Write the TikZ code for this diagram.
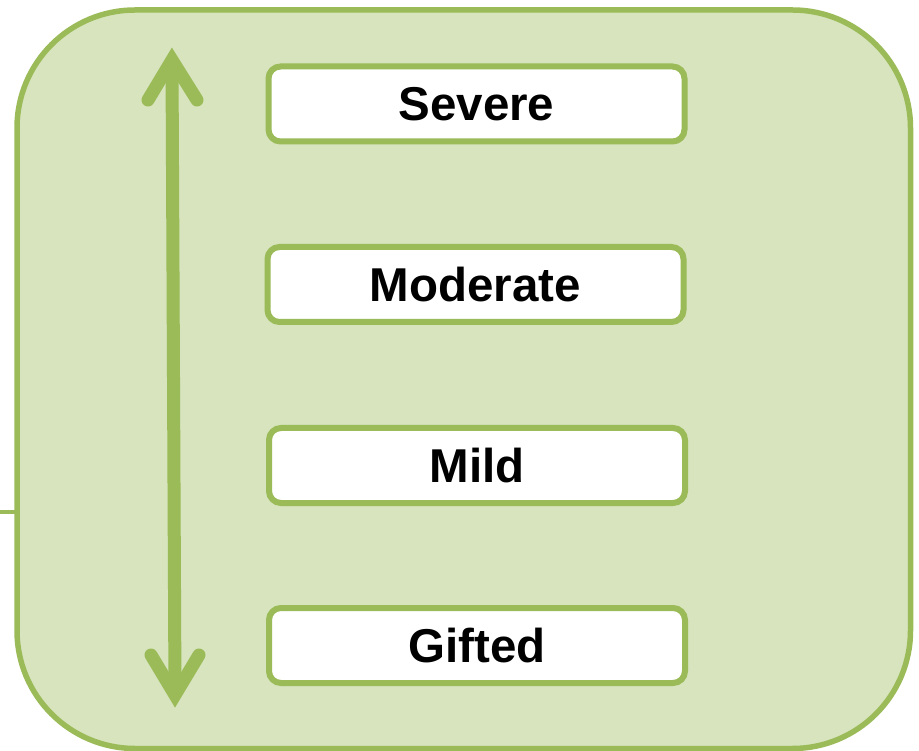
\documentclass[tikz,border=0pt]{standalone}
\usepackage{fontspec}
\setmainfont{Liberation Sans}
\definecolor{leafline}{HTML}{9BBB59}
\definecolor{leaffill}{HTML}{D7E4BD}
\begin{document}
\begin{tikzpicture}[x=1pt,y=-1pt,
  panel/.style={draw=leafline, line width=5.5pt, fill=leaffill, rounded corners=118pt},
  levelbox/.style={draw=leafline, line width=6pt, fill=white, rounded corners=12pt,
    minimum width=416pt, minimum height=75pt, inner sep=0pt,
    font=\fontsize{47.5}{50}\selectfont\bfseries},
  scaleline/.style={draw=leafline, line width=13pt},
  barb/.style={draw=leafline, line width=13pt, line cap=round, miter limit=10}]
  \useasboundingbox (0,0) rectangle (919,751);

  % short lead-in line on the left
  \coordinate (lead) at (0,512);
  \coordinate (leadend) at (17,512);
  \draw[leafline, line width=3.5pt] (lead) -- (leadend);

  % background panel
  \draw[panel] (17,10) rectangle (910.5,748.5);

  % double-headed severity scale
  \coordinate (up) at (172,60);
  \coordinate (down) at (175,695);
  \draw[scaleline] (up) -- (down);
  \draw[barb] ([shift={(-24,40)}]up) -- (up) -- ([shift={(25,40)}]up);
  \draw[barb] ([shift={(-24,-40)}]down) -- (down) -- ([shift={(24,-40)}]down);

  % levels
  \node[levelbox] (severe)   at (476.5,104)   {Severe};
  \node[levelbox] (moderate) at (475.5,284.5) {Moderate};
  \node[levelbox] (mild)     at (477,465.5)   {Mild};
  \node[levelbox] (gifted)   at (477,645.5)   {Gifted};
\end{tikzpicture}
\end{document}
